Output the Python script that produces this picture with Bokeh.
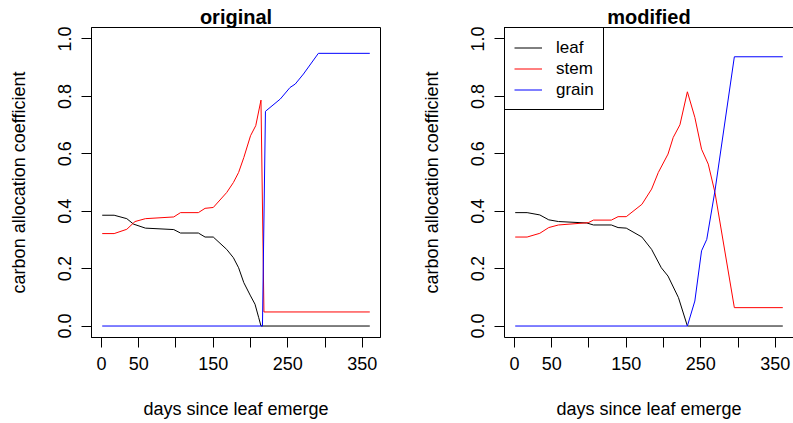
from bokeh.plotting import figure
from bokeh.layouts import row
from bokeh.models import (FixedTicker, PrintfTickFormatter, Legend, LegendItem,
                          LinearAxis, Range1d)
from bokeh.embed import file_html
from bokeh.resources import INLINE

# ---- data: original ----
orig_leaf_days = [1, 17, 34, 43, 59, 97, 106, 130, 139, 150, 168, 177, 184, 191, 200, 206, 211, 214, 360]
orig_leaf_vals = [0.386, 0.386, 0.374, 0.355, 0.341, 0.336, 0.324, 0.324, 0.310, 0.310, 0.267, 0.238,
                  0.203, 0.151, 0.105, 0.076, 0.029, 0.0, 0.0]
orig_stem_days = [1, 17, 34, 45, 59, 97, 106, 130, 139, 150, 168, 177, 184, 191, 200, 207, 214, 218, 360]
orig_stem_vals = [0.322, 0.322, 0.337, 0.364, 0.374, 0.380, 0.395, 0.395, 0.410, 0.413, 0.465, 0.500,
                  0.535, 0.587, 0.663, 0.698, 0.787, 0.049, 0.049]
orig_grain_days = [1, 214, 216, 220, 240, 253, 260, 271, 291, 360]
orig_grain_vals = [0.0, 0.0, 0.0, 0.748, 0.791, 0.831, 0.843, 0.878, 0.950, 0.950]

# ---- data: modified ----
mod_leaf_days = [1, 17, 34, 46, 59, 97, 106, 130, 139, 150, 171, 184, 197, 206, 220, 232, 360]
mod_leaf_vals = [0.395, 0.395, 0.387, 0.370, 0.364, 0.359, 0.352, 0.352, 0.343, 0.341, 0.310, 0.267,
                 0.203, 0.174, 0.099, 0.0, 0.0]
mod_stem_days = [1, 17, 34, 46, 59, 99, 106, 130, 139, 150, 171, 184, 193, 206, 213, 222, 232, 242,
                 251, 260, 269, 295, 360]
mod_stem_vals = [0.310, 0.310, 0.323, 0.343, 0.352, 0.360, 0.369, 0.369, 0.381, 0.381, 0.424, 0.477,
                 0.535, 0.599, 0.657, 0.701, 0.816, 0.727, 0.616, 0.564, 0.465, 0.064, 0.064]
mod_grain_days = [1, 232, 242, 251, 258, 269, 295, 360]
mod_grain_vals = [0.0, 0.0, 0.087, 0.262, 0.302, 0.471, 0.938, 0.938]

x_ticks = [0, 50, 100, 150, 200, 250, 300, 350]
hidden_x_labels = {100: "", 200: "", 300: ""}
y_ticks = [0.0, 0.2, 0.4, 0.6, 0.8, 1.0]
titles = ["original", "modified"]
series_names = ["leaf", "stem", "grain"]
series_colors = ["black", "red", "blue"]

FONT = "Liberation Sans"
X0, X1 = -13.36, 374.36
Y0, Y1 = -0.04, 1.04


def make_panel(title, data, border_left, border_right, legend=False, outline=True):
    frame_w = 289
    p = figure(width=border_left + frame_w + border_right, height=423,
               x_range=Range1d(X0, X1), y_range=Range1d(Y0, Y1),
               output_backend="svg", toolbar_location=None,
               min_border_left=border_left, min_border_right=border_right,
               min_border_top=27, min_border_bottom=86)
    p.xgrid.visible = False
    p.ygrid.visible = False
    p.background_fill_color = "white"
    p.border_fill_color = "white"

    p.title.text = title
    p.title.align = "center"
    p.title.text_font = FONT
    p.title.text_font_size = "20px"
    p.title.text_font_style = "bold"
    p.title.text_color = "black"
    p.title.standoff = 0
    p.title.offset = 0

    for ax in (p.xaxis[0], p.yaxis[0]):
        ax.axis_line_color = "black"
        ax.major_tick_line_color = "black"
        ax.major_tick_out = 10
        ax.major_tick_in = 0
        ax.minor_tick_line_color = None
        ax.major_label_text_font = FONT
        ax.major_label_text_font_size = "18px"
        ax.major_label_text_color = "black"
        ax.axis_label_text_font = FONT
        ax.axis_label_text_font_size = "18px"
        ax.axis_label_text_font_style = "normal"
        ax.axis_label_text_color = "black"

    xa = p.xaxis[0]
    xa.ticker = FixedTicker(ticks=x_ticks)
    xa.major_label_overrides = hidden_x_labels
    xa.major_label_standoff = 9
    xa.axis_label = "days since leaf emerge"
    xa.axis_label_standoff = 26

    ya = p.yaxis[0]
    ya.ticker = FixedTicker(ticks=y_ticks)
    ya.formatter = PrintfTickFormatter(format="%.1f")
    ya.major_label_orientation = "vertical"
    ya.major_label_standoff = 10
    ya.axis_label = "carbon allocation coefficient"
    ya.axis_label_standoff = 27

    if outline:
        p.outline_line_color = "black"
        p.outline_line_width = 1
        p.outline_line_alpha = 1.0
    else:
        p.outline_line_color = None
        top = LinearAxis(ticker=FixedTicker(ticks=[]), major_label_standoff=0,
                         major_tick_out=0, major_tick_in=0, axis_line_color="black",
                         major_label_text_font_size="0px")
        p.add_layout(top, "above")

    renderers = []
    for (days, vals), color in zip(data, series_colors):
        r = p.line(days, vals, line_color=color, line_width=1)
        renderers.append(r)

    if legend:
        lg = Legend(items=[LegendItem(label=n, renderers=[r]) for n, r in zip(series_names, renderers)],
                    location="top_left", margin=0, padding=9, spacing=0,
                    glyph_width=28, glyph_height=21, label_height=21, label_standoff=14,
                    border_line_color="black", border_line_width=1, border_line_alpha=1.0,
                    label_text_font=FONT, label_text_font_size="17px", label_text_color="black",
                    background_fill_color="white", background_fill_alpha=1.0)
        p.add_layout(lg, "center")
    return p


p1 = make_panel(titles[0],
                [(orig_leaf_days, orig_leaf_vals), (orig_stem_days, orig_stem_vals),
                 (orig_grain_days, orig_grain_vals)],
                border_left=91, border_right=30)
p2 = make_panel(titles[1],
                [(mod_leaf_days, mod_leaf_vals), (mod_stem_days, mod_stem_vals),
                 (mod_grain_days, mod_grain_vals)],
                border_left=94, border_right=0, legend=True, outline=False)

layout = row(p1, p2)
open("out.html", "w").write(file_html(layout, INLINE))
